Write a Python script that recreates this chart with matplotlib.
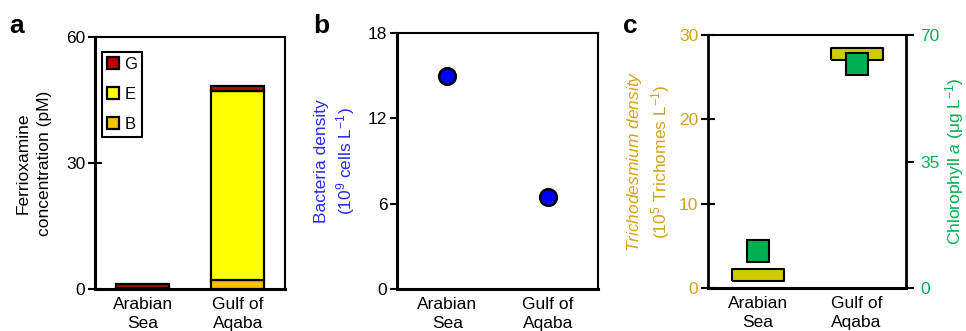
import numpy as np
import matplotlib
matplotlib.use("Agg")
import matplotlib.pyplot as plt

plt.rcParams['font.family'] = ['Liberation Sans', 'DejaVu Sans']
plt.rcParams['mathtext.fontset'] = 'custom'
plt.rcParams['mathtext.rm'] = 'Liberation Sans'
plt.rcParams['mathtext.it'] = 'Liberation Sans:italic'
plt.rcParams['font.size'] = 12.5

# данные
sites = ['Arabian\nSea', 'Gulf of\nAqaba']
ferrioxamine_B = [0.1, 2.2]
ferrioxamine_E = [0.1, 45.0]
ferrioxamine_G = [1.0, 1.2]
bacteria = [15.0, 6.5]
trichodesmium = [1.55, 27.8]
chlorophyll = [10.2, 62.1]

col_B = '#ffc000'
col_E = '#ffff00'
col_G = '#c00000'
col_blue = '#2a2aff'
col_gold = '#d4a21a'
col_tri = '#cccc00'
col_green = '#00b050'

fig = plt.figure(figsize=(9.66, 3.31), dpi=100)
x = np.arange(len(sites))


def style_axes(ax):
    ax.set_xlim(-0.5, 1.5)
    ax.set_xticks(x)
    ax.set_xticklabels(sites, linespacing=1.3)
    ax.tick_params(axis='x', length=0, pad=6)
    for s in ['top', 'right']:
        ax.spines[s].set_linewidth(1.5)
    for s in ['left', 'bottom']:
        ax.spines[s].set_linewidth(2.2)


# a - ферриоксамины
ax1 = fig.add_axes([0.0983, 0.127, 0.197, 0.761])
w = 0.56
b1 = ax1.bar(x, ferrioxamine_B, w, color=col_B, edgecolor='black', linewidth=1.6, label='B')
b2 = ax1.bar(x, ferrioxamine_E, w, bottom=ferrioxamine_B, color=col_E, edgecolor='black',
             linewidth=1.6, label='E')
bottom_G = np.array(ferrioxamine_B) + np.array(ferrioxamine_E)
b3 = ax1.bar(x, ferrioxamine_G, w, bottom=bottom_G, color=col_G, edgecolor='black',
             linewidth=1.6, label='G')
style_axes(ax1)
ax1.set_ylim(0, 60)
ax1.set_yticks([0, 30, 60])
ax1.tick_params(axis='y', direction='inout', length=10, width=1.5, pad=2)
ax1.set_ylabel('Ferrioxamine\nconcentration (pM)', multialignment='center', labelpad=10,
               linespacing=1.5)
leg = ax1.legend([b3, b2, b1], ['G', 'E', 'B'], loc='upper left', bbox_to_anchor=(0.037, 0.94),
                 borderaxespad=0, handlelength=0.75, handleheight=0.75, handletextpad=0.3,
                 labelspacing=0.9, fancybox=False, edgecolor='black', framealpha=1,
                 borderpad=0.3, fontsize=12)
leg.get_frame().set_linewidth(1.5)

# b - бактерии
ax2 = fig.add_axes([0.411, 0.127, 0.208, 0.773])
ax2.plot(x, bacteria, 'o', markersize=12, markerfacecolor='#0000ff',
         markeredgecolor='black', markeredgewidth=1.8, linestyle='none')
style_axes(ax2)
ax2.set_ylim(0, 18)
ax2.set_yticks([0, 6, 12, 18])
ax2.tick_params(axis='y', direction='out', length=5, width=1.5, pad=2)
ax2.set_ylabel('Bacteria density\n(10$^9$ cells L$^{-1}$)', color=col_blue,
               multialignment='center', labelpad=8, linespacing=1.3)

# c - Trichodesmium и хлорофилл
ax3 = fig.add_axes([0.733, 0.130, 0.205, 0.764])
rect = [(-1, -0.22), (1, -0.22), (1, 0.22), (-1, 0.22), (-1, -0.22)]
ax3.plot(x, trichodesmium, marker=rect, markersize=37, markerfacecolor=col_tri,
         markeredgecolor='black', markeredgewidth=1.5, linestyle='none')
style_axes(ax3)
ax3.spines['right'].set_linewidth(2.0)
ax3.spines['left'].set_linewidth(2.0)
ax3.set_ylim(0, 30)
ax3.set_yticks([0, 10, 20, 30])
ax3.tick_params(axis='y', direction='inout', length=10, width=1.5, pad=2, colors='black',
                labelcolor=col_gold)
ax3.set_ylabel('$\\mathit{Trichodesmium\\ density}$\n(10$^5$ Trichomes L$^{-1}$)',
               color=col_gold, multialignment='center', labelpad=5, linespacing=1.3)

ax4 = ax3.twinx()
ax4.plot(x, chlorophyll, 's', markersize=16, markerfacecolor=col_green,
         markeredgecolor='black', markeredgewidth=1.5, linestyle='none')
ax4.set_ylim(0, 70)
ax4.set_yticks([0, 35, 70])
ax4.tick_params(axis='y', direction='out', length=6, width=1.5, pad=4, labelcolor=col_green)
ax4.set_ylabel('Chlorophyll $\\mathit{a}$ (μg L$^{-1}$)', color=col_green, labelpad=3)
for s in ax4.spines.values():
    s.set_visible(False)

fig.text(0.010, 0.90, 'a', fontsize=19, fontweight='bold')
fig.text(0.324, 0.90, 'b', fontsize=19, fontweight='bold')
fig.text(0.645, 0.90, 'c', fontsize=19, fontweight='bold')

fig.savefig('out.png', dpi=100)
